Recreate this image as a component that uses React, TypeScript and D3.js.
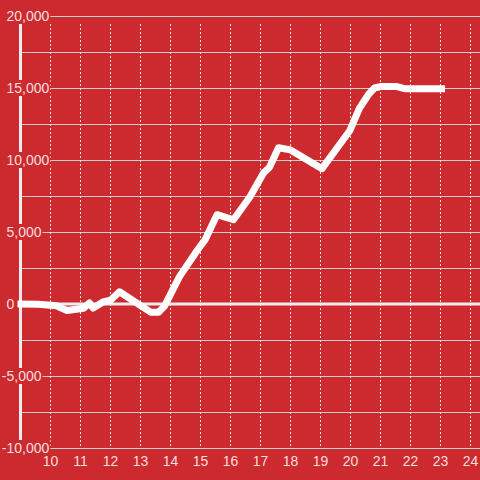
import React from "react";
import * as d3 from "d3";

const xValues = [8.9, 9.6, 10.2, 10.55, 11.1, 11.3, 11.42, 11.75, 12.0, 12.3, 13.35, 13.6, 13.8, 14.3, 14.9, 15.15, 15.55, 16.1, 16.65, 17.1, 17.3, 17.6, 18.0, 19.05, 19.98, 20.3, 20.6, 20.8, 21.0, 21.55, 21.8, 23.15];
const yValues = [0, -20, -120, -450, -300, 70, -280, 140, 260, 850, -580, -580, -150, 1900, 3750, 4450, 6200, 5850, 7450, 9100, 9500, 10850, 10700, 9400, 12050, 13600, 14550, 15000, 15100, 15100, 14950, 14950];
const yTicks = [-10000, -5000, 0, 5000, 10000, 15000, 20000];
const yGrid = [-10000, -7500, -5000, -2500, 0, 2500, 5000, 7500, 10000, 12500, 15000, 17500, 20000];
const xTicks = [10, 11, 12, 13, 14, 15, 16, 17, 18, 19, 20, 21, 22, 23, 24];

const BG = "#cd2a2f";
const TEXT = "#f6dede";

export default function App() {
  const W = 480, H = 480;
  const x = d3.scaleLinear().domain([9, 24]).range([20.5, 470.5]);
  const y = d3.scaleLinear().domain([-10000, 20000]).range([448, 16]);
  const data = xValues.map((v, i) => [v, yValues[i]] as [number, number]);
  const line = d3.line<[number, number]>().x(d => x(d[0])).y(d => y(d[1])).curve(d3.curveLinear);
  const fmt = d3.format(",");
  const fs = 14;
  const charW = (s: string) => {
    let w = 0;
    for (const c of s) w += c === "," ? 3.9 : c === "-" ? 4.7 : 7.8;
    return w;
  };
  return (
    <svg width={W} height={H} style={{ position: "absolute", left: 0, top: 0, fontFamily: "'Liberation Sans', Arial, sans-serif" }}>
      <rect x={0} y={0} width={W} height={H} fill={BG} />
      {yGrid.map(v => (
        <line key={"hg" + v} x1={21} x2={W} y1={y(v) + 0.5} y2={y(v) + 0.5} stroke="#cfcfcf" strokeWidth={1.2} />
      ))}
      {xTicks.map(v => (
        <line key={"vg" + v} x1={x(v)} x2={x(v)} y1={24} y2={446} stroke="#e6e6e6" strokeWidth={1} strokeDasharray="2,2" />
      ))}
      <line x1={20.5} x2={20.5} y1={16} y2={448} stroke="#eeeeee" strokeWidth={3} />
      <line x1={21} x2={W} y1={y(0)} y2={y(0)} stroke="#eeeeee" strokeWidth={3} />
      {yTicks.map(v => {
        const s = fmt(v).replace("−", "-");
        const neg = v < 0;
        const left = neg ? 6.5 - 4.7 : 6.5;
        const w = charW(s);
        return (
          <g key={"yl" + v}>
            <rect x={left - 1} y={y(v) - 8} width={w + 2} height={16} fill={BG} />
            <text x={left} y={y(v) + 5} fontSize={fs} fill={TEXT}>{s}</text>
          </g>
        );
      })}
      {xTicks.map(v => (
        <text key={"xl" + v} x={x(v)} y={466} fontSize={fs} fill={TEXT} textAnchor="middle">{v}</text>
      ))}
      <path d={line(data) || ""} fill="none" stroke="#ffffff" strokeWidth={7} strokeLinejoin="round" strokeLinecap="butt" />
    </svg>
  );
}
